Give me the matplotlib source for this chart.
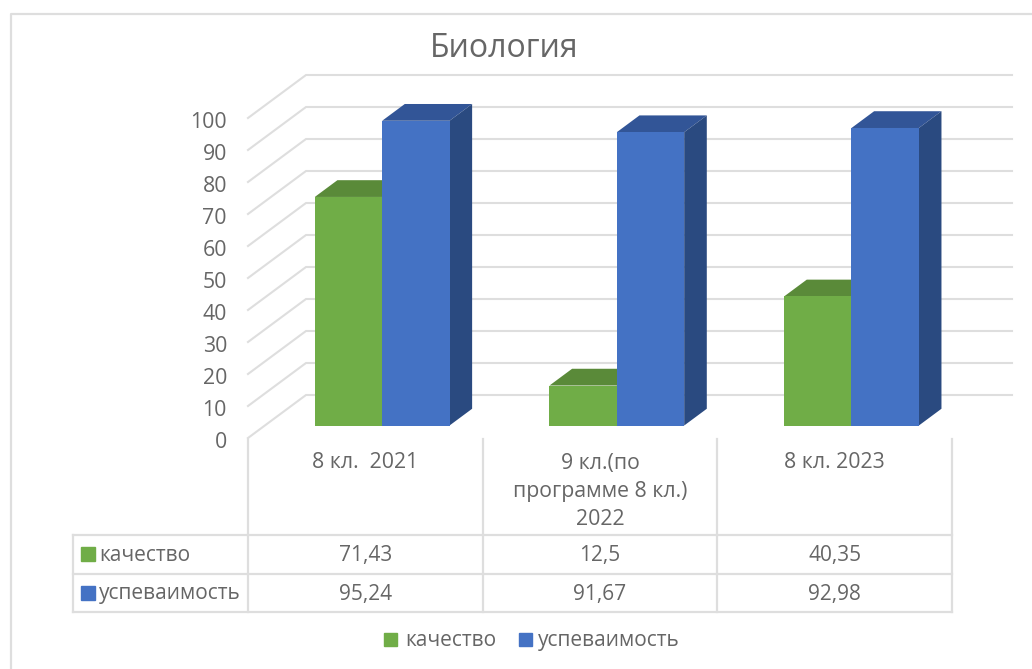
import matplotlib
matplotlib.use('Agg')
import matplotlib.pyplot as plt
from matplotlib.patches import Polygon

# Chart data
title = 'Биология'
categories = ['8 кл.  2021', '9 кл.(по\nпрограмме 8 кл.)\n2022', '8 кл. 2023']
series_names = ['качество', 'успеваимость']
kachestvo = [71.43, 12.5, 40.35]
uspevaemost = [95.24, 91.67, 92.98]
y_ticks = [0, 10, 20, 30, 40, 50, 60, 70, 80, 90, 100]

# Colours: front, top, side
GREEN = ('#70AD47', '#5A8A39', '#43682B')
BLUE = ('#4472C4', '#325597', '#2A4A80')
GRID = '#DEDEDE'
TEXT = '#666666'
FONT = 'Open Sans'

W, H = 1032, 669
plt.rcParams['font.family'] = [FONT, 'DejaVu Sans']
fig = plt.figure(figsize=(W / 100, H / 100), dpi=100)

# Overlay in pixels for frame, table and legend
ax_px = fig.add_axes([0, 0, 1, 1])
ax_px.set_xlim(0, W)
ax_px.set_ylim(H, 0)
ax_px.axis('off')

# Chart axes: x = category units, y = value on the front plane
X0, CAT_W = 248, 234.67
Y0, UNIT = 438, 3.2
ax = fig.add_axes([0, 0, 1, 1])
ax.set_xlim(-X0 / CAT_W, (W - X0) / CAT_W)
ax.set_ylim(-(H - Y0) / UNIT, Y0 / UNIT)
ax.axis('off')
ax.patch.set_alpha(0)

# Depth of the fake 3D box, in data units
DEPTH_X = 58 / CAT_W
DEPTH_Y = 43 / UNIT
BAR_W = 0.287
T_FRONT, T_BACK = 0.29, 0.68


def shift(x, y, t):
    return x + t * DEPTH_X, y + t * DEPTH_Y


# Gridlines on the back wall and the left wall
n = len(categories)
for tick in y_ticks:
    x1, y1 = shift(0, tick, 1)
    x2, y2 = shift(n, tick, 1)
    ax.plot([0, x1, x2 + 2 / CAT_W], [tick, y1, y2], color=GRID, lw=1.5, zorder=1,
            solid_joinstyle='miter')
    ax.text(-21 / CAT_W, tick - 5 / UNIT, str(tick), ha='right', va='center',
            fontsize=15.3, color=TEXT)


def draw_bars(offset, values, colors, z):
    for i, v in enumerate(values):
        left = i + 0.5 + offset
        x, y = shift(left, 0, T_FRONT)
        ax.bar(x, v, BAR_W, bottom=y, align='edge', color=colors[0], zorder=z + 2)
        right = x + BAR_W
        d = (T_BACK - T_FRONT)
        dx, dy = d * DEPTH_X, d * DEPTH_Y
        top = y + v
        ax.add_patch(Polygon([(x, top), (right, top), (right + dx, top + dy), (x + dx, top + dy)],
                             closed=True, facecolor=colors[1], edgecolor='none', zorder=z + 1))
        ax.add_patch(Polygon([(right, y), (right + dx, y + dy), (right + dx, top + dy), (right, top)],
                             closed=True, facecolor=colors[2], edgecolor='none', zorder=z + 1))


draw_bars(-BAR_W, kachestvo, GREEN, 2)
draw_bars(0, uspevaemost, BLUE, 5)

ax_px.set_zorder(3)
ax_px.patch.set_alpha(0)

# Title
ax_px.text(504, 48.5, title, ha='center', va='center', fontsize=23, color=TEXT)

# Outer chart frame
ax_px.plot([10.5, 10.5, W], [H, 14, 14], color=GRID, lw=1.6)

# Data table
col_x = [X0 + i * CAT_W for i in range(n + 1)]
row_y = [535, 573.5, 612]
for y in row_y:
    ax_px.plot([73, col_x[-1]], [y, y], color=GRID, lw=1.6)
ax_px.plot([73, 73], [row_y[0], row_y[-1]], color=GRID, lw=1.6)
for x in col_x:
    ax_px.plot([x, x], [439, row_y[-1]], color=GRID, lw=1.6)

for i, cat in enumerate(categories):
    ax_px.text(col_x[i] + CAT_W / 2, 452.5, cat, ha='center', va='top', fontsize=15.3,
               color=TEXT, linespacing=1.46)

for r, (name, values, colors) in enumerate(zip(series_names, [kachestvo, uspevaemost], [GREEN, BLUE])):
    yc = (row_y[r] + row_y[r + 1]) / 2
    ax_px.add_patch(plt.Rectangle((81, yc - 7), 14, 14, color=colors[0]))
    ax_px.text(99, yc + 1, name, ha='left', va='center', fontsize=15, color=TEXT)
    for i, v in enumerate(values):
        ax_px.text(col_x[i] + CAT_W / 2, yc + 1.5, str(v).replace('.', ','), ha='center',
                   va='center', fontsize=15, color=TEXT)

# Legend under the table
leg_x = [384, 519]
text_x = [405, 538]
for x, tx, name, colors in zip(leg_x, text_x, series_names, [GREEN, BLUE]):
    ax_px.add_patch(plt.Rectangle((x, 633), 13, 13, color=colors[0]))
    ax_px.text(tx, 640.5, name, ha='left', va='center', fontsize=15, color=TEXT)

fig.savefig('out.png', dpi=100)
